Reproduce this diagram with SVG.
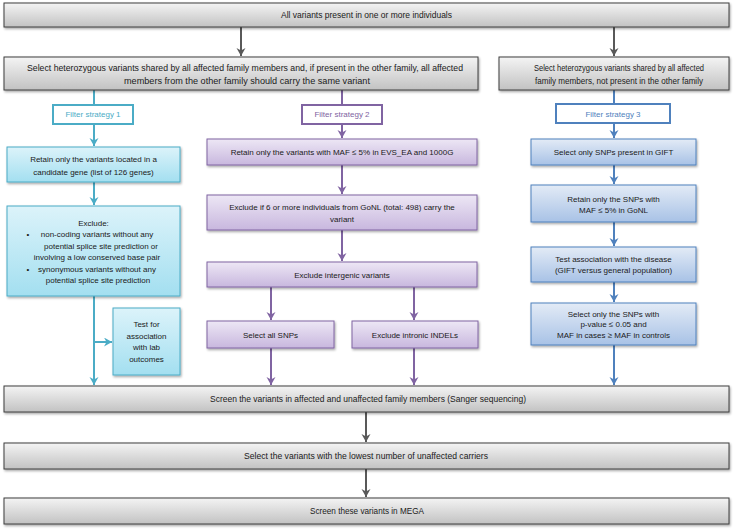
<svg xmlns="http://www.w3.org/2000/svg" width="733" height="530" viewBox="0 0 733 530">
<style>
text{font-family:"Liberation Sans",Arial,sans-serif;font-size:8px;fill:#1a1a1a;text-anchor:middle}
.g{font-size:8.6px}
.gray{fill:url(#gGray);stroke:#3f3f3f;stroke-width:1;filter:url(#sh)}
.teal{fill:url(#gTeal);stroke:#4bacc6;stroke-width:1;filter:url(#sh)}
.purp{fill:url(#gPurp);stroke:#8064a2;stroke-width:1;filter:url(#sh)}
.blue{fill:url(#gBlue);stroke:#4f81bd;stroke-width:1;filter:url(#sh)}
.fs{fill:#fff;stroke-width:2}
.c{fill:none;stroke-width:2}
.cg{stroke:#595959}.ct{stroke:#4bacc6}.cp{stroke:#8064a2}.cb{stroke:#4f81bd}
</style>
<defs>
<linearGradient id="gGray" x1="0" y1="0" x2="0" y2="1"><stop offset="0" stop-color="#f4f4f4"/><stop offset="1" stop-color="#c2c2c2"/></linearGradient>
<linearGradient id="gTeal" x1="0" y1="0" x2="0" y2="1"><stop offset="0" stop-color="#dcf3fa"/><stop offset="1" stop-color="#a3dff0"/></linearGradient>
<linearGradient id="gPurp" x1="0" y1="0" x2="0" y2="1"><stop offset="0" stop-color="#ede7f5"/><stop offset="1" stop-color="#c8b7de"/></linearGradient>
<linearGradient id="gBlue" x1="0" y1="0" x2="0" y2="1"><stop offset="0" stop-color="#e3ebf6"/><stop offset="1" stop-color="#a8c2e6"/></linearGradient>
<filter id="sh" x="-5%" y="-20%" width="110%" height="150%"><feDropShadow dx="1" dy="1.5" stdDeviation="1" flood-color="#000" flood-opacity="0.35"/></filter>
<marker id="aG" markerUnits="userSpaceOnUse" markerWidth="10" markerHeight="10" refX="8" refY="4.5" orient="auto"><path d="M0,0 L8,4.5 L0,9 L2.5,4.5 Z" fill="#595959"/></marker>
<marker id="aT" markerUnits="userSpaceOnUse" markerWidth="10" markerHeight="10" refX="8" refY="4.5" orient="auto"><path d="M0,0 L8,4.5 L0,9 L2.5,4.5 Z" fill="#4bacc6"/></marker>
<marker id="aP" markerUnits="userSpaceOnUse" markerWidth="10" markerHeight="10" refX="8" refY="4.5" orient="auto"><path d="M0,0 L8,4.5 L0,9 L2.5,4.5 Z" fill="#8064a2"/></marker>
<marker id="aB" markerUnits="userSpaceOnUse" markerWidth="10" markerHeight="10" refX="8" refY="4.5" orient="auto"><path d="M0,0 L8,4.5 L0,9 L2.5,4.5 Z" fill="#4f81bd"/></marker>
</defs>

<g id="connectors">
<path class="c cg" d="M241,27 V56" marker-end="url(#aG)"/>
<path class="c cg" d="M614,27 V56" marker-end="url(#aG)"/>
<path class="c cg" d="M366,412 V442" marker-end="url(#aG)"/>
<path class="c cg" d="M366,469 V497" marker-end="url(#aG)"/>
<path class="c ct" d="M94,90 V105"/>
<path class="c ct" d="M94,124 V146" marker-end="url(#aT)"/>
<path class="c ct" d="M94,182 V205" marker-end="url(#aT)"/>
<path class="c ct" d="M94,296 V385" marker-end="url(#aT)"/>
<path class="c ct" d="M94,342 H112" marker-end="url(#aT)"/>
<path class="c cp" d="M342,90 V105"/>
<path class="c cp" d="M342,124 V138" marker-end="url(#aP)"/>
<path class="c cp" d="M342,165 V194" marker-end="url(#aP)"/>
<path class="c cp" d="M342,230 V261" marker-end="url(#aP)"/>
<path class="c cp" d="M271,287 V320" marker-end="url(#aP)"/>
<path class="c cp" d="M414,287 V320" marker-end="url(#aP)"/>
<path class="c cp" d="M271,348 V385" marker-end="url(#aP)"/>
<path class="c cp" d="M414,348 V385" marker-end="url(#aP)"/>
<path class="c cb" d="M614,90 V104"/>
<path class="c cb" d="M614,123 V138" marker-end="url(#aB)"/>
<path class="c cb" d="M614,165 V184" marker-end="url(#aB)"/>
<path class="c cb" d="M614,222 V246" marker-end="url(#aB)"/>
<path class="c cb" d="M614,282 V302" marker-end="url(#aB)"/>
<path class="c cb" d="M614,345 V385" marker-end="url(#aB)"/>
</g>

<g id="all-variants">
<rect class="gray" x="4" y="3" width="725" height="24"/>
<text class="g" x="366.5" y="18" textLength="171" lengthAdjust="spacingAndGlyphs">All variants present in one or more individuals</text>
</g>
<g id="shared-both">
<rect class="gray" x="4" y="57" width="474" height="33"/>
<text class="g" x="245" y="71" textLength="436" lengthAdjust="spacingAndGlyphs">Select heterozygous variants shared by all affected family members and, if present in the other family, all affected</text>
<text class="g" x="247" y="84" textLength="246" lengthAdjust="spacingAndGlyphs">members from the other family should carry the same variant</text>
</g>
<g id="shared-one">
<rect class="gray" x="499" y="57" width="230" height="33"/>
<text class="g" x="619" y="71" textLength="170" lengthAdjust="spacingAndGlyphs">Select heterozygous variants shared by all affected</text>
<text class="g" x="619" y="84" textLength="168" lengthAdjust="spacingAndGlyphs">family members, not present in the other family</text>
</g>

<g id="fs1">
<rect class="fs" x="53" y="105" width="80" height="19" stroke="#4bacc6"/>
<text x="93" y="117" style="fill:#4bacc6">Filter strategy 1</text>
</g>
<g id="fs2">
<rect class="fs" x="302" y="105" width="80" height="19" stroke="#8064a2"/>
<text x="342" y="117" style="fill:#8064a2">Filter strategy 2</text>
</g>
<g id="fs3">
<rect class="fs" x="556" y="104" width="114" height="19" stroke="#4f81bd"/>
<text x="613" y="116.5" style="fill:#4f81bd">Filter strategy 3</text>
</g>

<g id="t1">
<rect class="teal" x="7" y="147" width="173" height="35"/>
<text x="93.5" y="162">Retain only the variants located in a</text>
<text x="93.5" y="174.5">candidate gene (list of 126 genes)</text>
</g>
<g id="t2">
<rect class="teal" x="7" y="206" width="173" height="90"/>
<text x="93.5" y="225.5">Exclude:</text>
<text x="28" y="237">•</text>
<text x="97" y="237">non-coding variants without any</text>
<text x="101" y="248.5">potential splice site prediction or</text>
<text x="97" y="260">involving a low conserved base pair</text>
<text x="28" y="271.5">•</text>
<text x="97" y="271.5">synonymous variants without any</text>
<text x="98" y="283">potential splice site prediction</text>
</g>
<g id="t3">
<rect class="teal" x="113" y="308" width="67" height="67"/>
<text x="146.5" y="327">Test for</text>
<text x="146.5" y="338.5">association</text>
<text x="146.5" y="350">with lab</text>
<text x="146.5" y="361.5">outcomes</text>
</g>

<g id="p1">
<rect class="purp" x="207" y="139" width="270" height="26"/>
<text x="342" y="155">Retain only the variants with MAF ≤ 5% in EVS_EA and 1000G</text>
</g>
<g id="p2">
<rect class="purp" x="207" y="195" width="270" height="35"/>
<text x="342" y="210">Exclude if 6 or more individuals from GoNL (total: 498) carry the</text>
<text x="342" y="221.5">variant</text>
</g>
<g id="p3">
<rect class="purp" x="207" y="262" width="270" height="25"/>
<text x="342" y="277.5">Exclude intergenic variants</text>
</g>
<g id="p4">
<rect class="purp" x="207" y="321" width="127" height="27"/>
<text x="270.5" y="337.5">Select all SNPs</text>
</g>
<g id="p5">
<rect class="purp" x="352" y="321" width="126" height="27"/>
<text x="415" y="337.5">Exclude intronic INDELs</text>
</g>

<g id="b1">
<rect class="blue" x="531" y="139" width="165" height="26"/>
<text x="613.5" y="155">Select only SNPs present in GIFT</text>
</g>
<g id="b2">
<rect class="blue" x="531" y="185" width="165" height="37"/>
<text x="613.5" y="201.5">Retain only the SNPs with</text>
<text x="613.5" y="213">MAF ≤ 5% in GoNL</text>
</g>
<g id="b3">
<rect class="blue" x="531" y="247" width="165" height="35"/>
<text x="613.5" y="261.5">Test association with the disease</text>
<text x="613.5" y="273">(GIFT versus general population)</text>
</g>
<g id="b4">
<rect class="blue" x="531" y="303" width="165" height="42"/>
<text x="613.5" y="316.5">Select only the SNPs with</text>
<text x="613.5" y="327">p-value ≤ 0.05 and</text>
<text x="613.5" y="337.5">MAF in cases ≥ MAF in controls</text>
</g>

<g id="screen-family">
<rect class="gray" x="4" y="386" width="725" height="26"/>
<text class="g" x="368" y="402" textLength="316" lengthAdjust="spacingAndGlyphs">Screen the variants in affected and unaffected family members (Sanger sequencing)</text>
</g>
<g id="lowest-carriers">
<rect class="gray" x="4" y="443" width="725" height="26"/>
<text class="g" x="366" y="459" textLength="244" lengthAdjust="spacingAndGlyphs">Select the variants with the lowest number of unaffected carriers</text>
</g>
<g id="mega">
<rect class="gray" x="4" y="498" width="725" height="26"/>
<text class="g" x="367" y="514" textLength="114" lengthAdjust="spacingAndGlyphs">Screen these variants in MEGA</text>
</g>
</svg>
